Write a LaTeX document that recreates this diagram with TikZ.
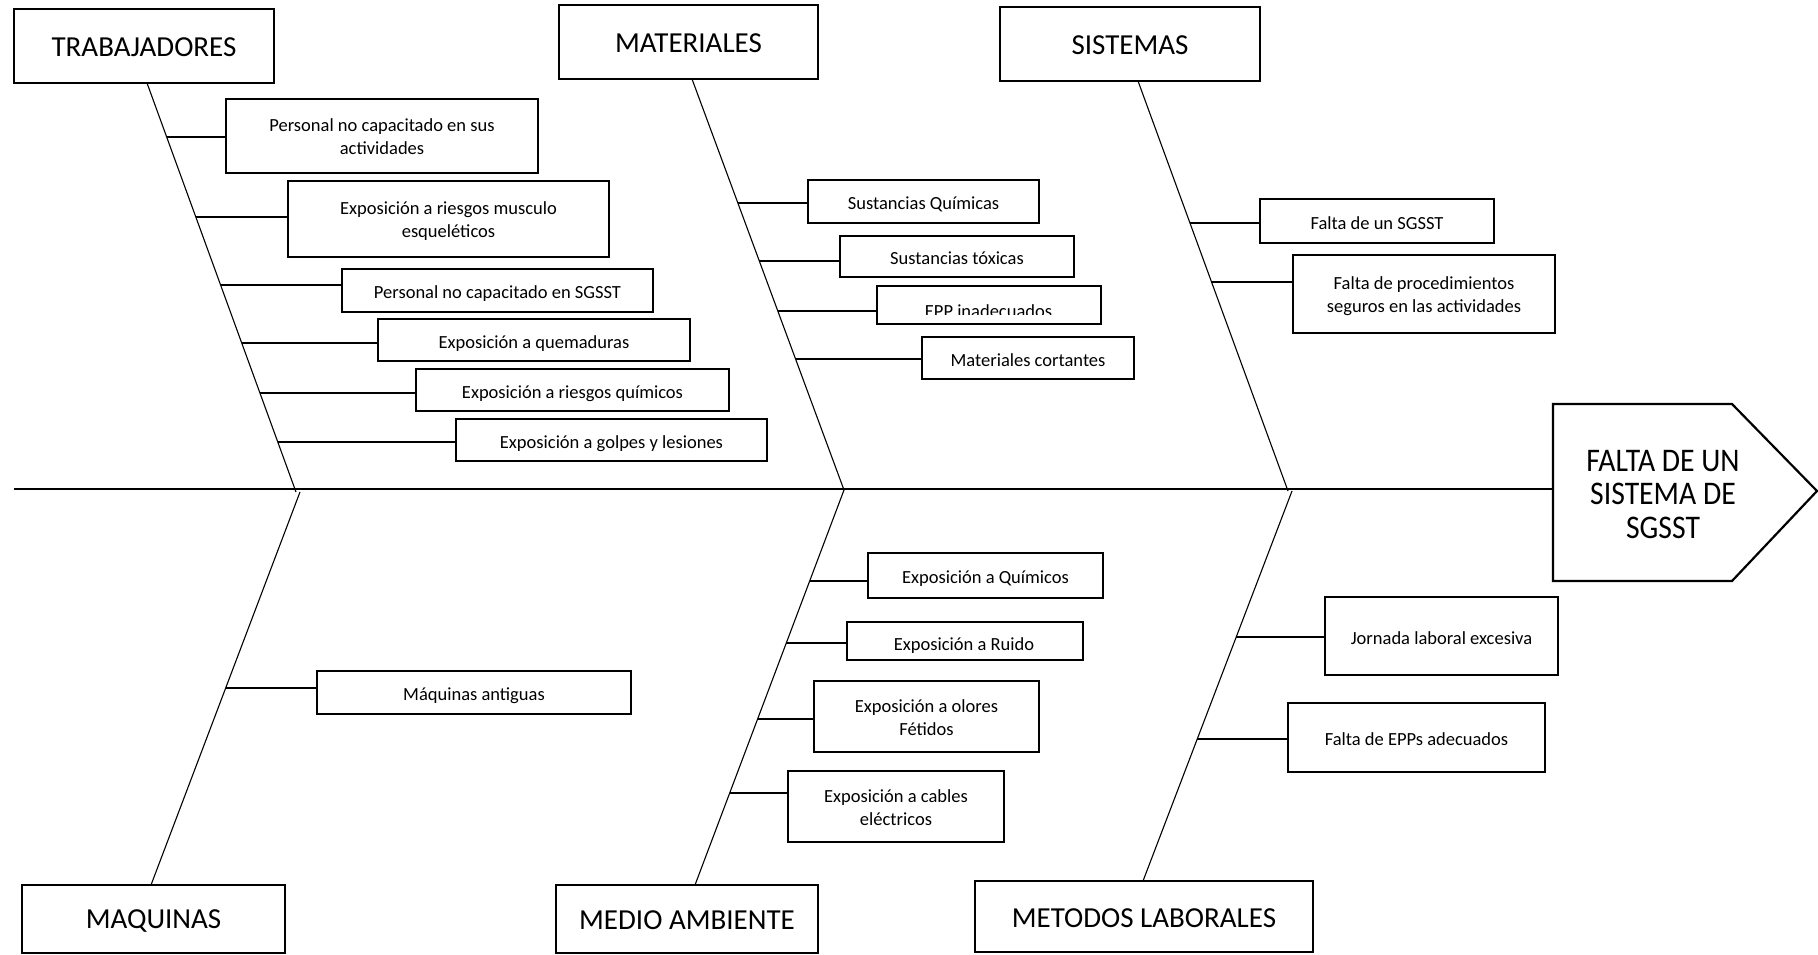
\documentclass[tikz,border=0pt]{standalone}
\usepackage{fontspec}
\setmainfont{Carlito}
\newfontfamily\effectfam[FakeStretch=0.9]{Carlito}
\newcommand\causefont{\fontsize{18.5}{23}\selectfont}
\newcommand\catfont{\fontsize{29}{35}\selectfont}
\newcommand\effectfont{\effectfam\fontsize{33}{33.3}\selectfont}
\tikzset{
  cat/.style={draw, line width=2.2pt, font=\catfont, inner sep=0pt, align=center,
    execute at begin node={\rule{0pt}{22pt}}},
  cause/.style={draw, line width=2.2pt, font=\causefont, inner sep=0pt, align=center,
    execute at begin node={\rule{0pt}{20pt}},
    execute at end node={\rule[-4pt]{0pt}{4pt}}},
  causetwo/.style={draw, line width=2.2pt, font=\causefont, inner sep=0pt, align=center,
    execute at begin node={\rule{0pt}{41pt}},
    execute at end node={\rule[-4pt]{0pt}{4pt}}},
  bone/.style={line width=1.1pt},
  twig/.style={line width=1.5pt},
  mainline/.style={line width=1.7pt},
}
\begin{document}
\begin{tikzpicture}[x=1pt, y=-1pt]
\useasboundingbox (0,0) rectangle (1818,955);

% category boxes
\node[cat, minimum width=260pt, minimum height=74pt] (trab) at (144,46) {TRABAJADORES};
\node[cat, minimum width=259pt, minimum height=74pt] (mat) at (688.5,42) {MATERIALES};
\node[cat, minimum width=260pt, minimum height=74pt] (sis) at (1130,44) {SISTEMAS};
\node[cat, minimum width=263pt, minimum height=68pt] (maq) at (153.5,919) {MAQUINAS};
\node[cat, minimum width=262pt, minimum height=68pt] (med) at (687,919) {MEDIO AMBIENTE};
\node[cat, minimum width=338pt, minimum height=71pt] (met) at (1144,916.5) {METODOS LABORALES};

% effect
\coordinate (tail) at (14,489);
\coordinate (head) at (1553,489);
\draw[line width=2.2pt, line join=miter] (1553,404) -- (1732,404) -- (1817,491) -- (1732,581) -- (1553,581) -- cycle;
\node[font=\effectfont, align=center, inner sep=0pt] (eff) at (1663,494.5) {FALTA DE UN\\SISTEMA DE\\SGSST};
\draw[mainline] (tail) -- (head);

% spines
\coordinate (trabA) at (147,83);  \coordinate (trabB) at (296,492);
\coordinate (matA) at (692,79);   \coordinate (matB) at (844,490);
\coordinate (sisA) at (1138,81);  \coordinate (sisB) at (1288,491);
\coordinate (maqA) at (300,492);  \coordinate (maqB) at (151,885);
\coordinate (medA) at (844,490);  \coordinate (medB) at (695,885);
\coordinate (metA) at (1292,491); \coordinate (metB) at (1143,881);
\foreach \s in {trab,mat,sis,maq,med,met}{\draw[bone] (\s A) -- (\s B);}

% TRABAJADORES causes
\node[causetwo, minimum width=312pt, minimum height=74pt] (t1) at (382,136) {Personal no capacitado en sus\\actividades};
\node[causetwo, minimum width=321pt, minimum height=76pt] (t2) at (448.5,219) {Exposición a riesgos musculo\\esqueléticos};
\node[cause, minimum width=311pt, minimum height=43pt] (t3) at (497.5,290.5) {Personal no capacitado en SGSST};
\node[cause, minimum width=312pt, minimum height=42pt] (t4) at (534,340) {Exposición a quemaduras};
\node[cause, minimum width=313pt, minimum height=42pt] (t5) at (572.5,390) {Exposición a riesgos químicos};
\node[cause, minimum width=311pt, minimum height=42pt] (t6) at (611.5,440) {Exposición a golpes y lesiones};
\coordinate (t1s) at (166.7,137);
\coordinate (t2s) at (195.8,217);
\coordinate (t3s) at (220.6,285);
\coordinate (t4s) at (241.7,343);
\coordinate (t5s) at (259.9,393);
\coordinate (t6s) at (277.8,442);

% MATERIALES causes
\node[cause, minimum width=231pt, minimum height=43pt] (m1) at (923.5,201.5) {Sustancias Químicas};
\node[cause, minimum width=234pt, minimum height=41pt] (m2) at (957,256.5) {Sustancias tóxicas};
\node[cause, minimum width=224pt, minimum height=38pt] (m3) at (989,305) {};
\begin{scope}
  \clip (878,287) rectangle (1100,314.5);
  \node[font=\causefont, anchor=base, inner sep=0pt] (m3t) at (988.5,317) {EPP inadecuados};
\end{scope}
\node[cause, minimum width=212pt, minimum height=42pt] (m4) at (1028,358) {Materiales cortantes};
\coordinate (m1s) at (737.9,203);
\coordinate (m2s) at (759.3,261);
\coordinate (m3s) at (777.8,311);
\coordinate (m4s) at (795.5,359);

% SISTEMAS causes
\node[cause, minimum width=234pt, minimum height=44pt] (s1) at (1377,221) {Falta de un SGSST};
\node[causetwo, minimum width=262pt, minimum height=78pt] (s2) at (1424,294) {Falta de procedimientos\\seguros en las actividades};
\coordinate (s1s) at (1190,223);
\coordinate (s2s) at (1211.5,282);

% MAQUINAS causes
\node[cause, minimum width=314pt, minimum height=43pt] (q1) at (474,692.5) {Máquinas antiguas};
\coordinate (q1s) at (225.7,688);

% MEDIO AMBIENTE causes
\node[cause, minimum width=235pt, minimum height=45pt] (e1) at (985.5,575.5) {Exposición a Químicos};
\node[cause, minimum width=236pt, minimum height=38pt] (e2) at (965,641) {};
\begin{scope}
  \clip (848,623) rectangle (1082,653);
  \node[font=\causefont, anchor=base, inner sep=0pt] (e2t) at (964,650.5) {Exposición a Ruido};
\end{scope}
\node[causetwo, minimum width=225pt, minimum height=71pt] (e3) at (926.5,716.5) {Exposición a olores\\Fétidos};
\node[causetwo, minimum width=216pt, minimum height=71pt] (e4) at (896,806.5) {Exposición a cables\\eléctricos};
\coordinate (e1s) at (809.7,581);
\coordinate (e2s) at (786.3,643);
\coordinate (e3s) at (757.6,719);
\coordinate (e4s) at (729.7,793);

% METODOS LABORALES causes
\node[cause, minimum width=233pt, minimum height=78pt] (l1) at (1441.5,636) {Jornada laboral excesiva};
\node[cause, minimum width=257pt, minimum height=69pt] (l2) at (1416.5,737.5) {Falta de EPPs adecuados};
\coordinate (l1s) at (1236.2,637);
\coordinate (l2s) at (1197.3,739);

% twigs
\foreach \c in {t1,t2,t3,t4,t5,t6,m1,m2,m3,m4,s1,s2,q1,e1,e2,e3,e4,l1,l2}{
  \draw[twig] (\c s) -- (\c s -| \c.west);
}
\end{tikzpicture}
\end{document}
